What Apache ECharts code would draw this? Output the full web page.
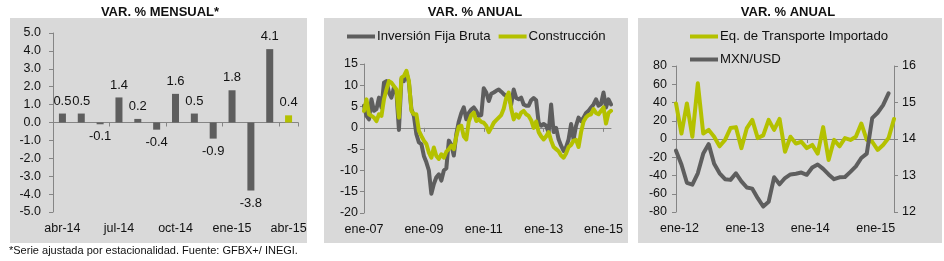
<!DOCTYPE html>
<html>
<head>
<meta charset="utf-8">
<script src="https://cdn.jsdelivr.net/npm/echarts@6/dist/echarts.min.js"></script>
<style>
  html, body { margin: 0; padding: 0; background: #fff; }
  #chart { width: 944px; height: 261px; }
</style>
</head>
<body>
<div id="chart"></div>
<script>
const FONT = '"Liberation Sans", Arial, sans-serif'
const GRAY = '#5e5e5e'
const OLIVE = '#b4c100'
const AXIS = '#858585'
const TXT = '#111'

const MESES = ['ene', 'feb', 'mar', 'abr', 'may', 'jun', 'jul', 'ago', 'sep', 'oct', 'nov', 'dic']
const monthRange = (year, month, n) => {
  const out = []
  for (let k = 0; k < n; k++) {
    const m = (month + k) % 12
    const y = year + Math.floor((month + k) / 12)
    out.push(MESES[m] + '-' + String(y % 100).padStart(2, '0'))
  }
  return out
}

// panel 1: var. % mensual (abr-14 .. abr-15)
const mensualCats = monthRange(2014, 3, 13)
const mensualVals = [0.5, 0.5, -0.1, 1.4, 0.2, -0.4, 1.6, 0.5, -0.9, 1.8, -3.8, 4.1, 0.4]

// panel 2: var. % anual (ene-07 .. abr-15)
const anualCats = monthRange(2007, 0, 100)
const inversion = [
  5.2, 2.8, 2, 6.7, 4, 4.4, 7.1, 4.8, 10.6, 11, 8.3, 7.1, 9.5, 8.3, -0.5, 11.4, 11, 13, 10.6, 4.4,
  2.8, -1.5, -3.4, -3.8, -6.6, -8.1, -10, -15.5, -13.2, -11.6, -10.9, -12.4, -10, -9.5, -3, -4, -6.5, -1.5, 1.5, 3.5,
  4.8, 2, 3.5, 4.3, 4.8, 4, 2.8, 3, 9.3, 8.3, 6.3, 8, 8.3, 8.7, 9, 8.5, 7.9, 7.5, 7.1, 5.5,
  9, 7, 6.7, 7.1, 5.5, 5.2, 5.2, 6.5, 7, 6.5, 1.2, 0.5, 0.9, 0.5, -1.1, 5.5, -1, 0, -2.7, -4.2,
  -5.4, -4.5, -2.7, 0.9, -2.7, 0.5, 2.4, 1.6, 2.4, 3.5, 4, 4.8, 5.5, 6.7, 5.2, 5.6, 8.3, 4.8, 6.7, 5.5
]
const construccion = [
  4, 6.7, 3.2, 2.8, 2.4, 1.6, 3.2, 2.8, 6.7, 9, 11, 10.6, 9.8, 9, 2.4, 11.8, 12.2, 13.4, 11, 4,
  3.2, 3.2, -0.7, -1.9, -3, -3.8, -5.8, -7, -4.6, -6.6, -7.3, -6.2, -7, -5.6, -5, -4.2, -5, -2, 0.3, 0.5,
  -2, -2.7, 1.5, 3, 3.6, 1.6, 2, 1.4, 1.2, 0.5, -1, 0, 1.2, 1.8, 2.4, 3, 4.5, 7, 8.3, 4.5,
  2, 3.2, 2.4, 3.6, 4, 3.2, 2.8, 1.8, 0, 1.5, -1, -2, -2.7, -2, -1, -3, -4.5, -5, -5.5, -6.5,
  -7, -6, -4.5, -4, -3, -2.8, -4.5, -1, 1.5, 2.5, 3, 3.2, 4.4, 3.5, 3.2, 4, 4.8, 1, 3.5, 4
]

// panel 3: var. % anual (ene-12 .. may-15), MXN/USD on right axis
const transCats = monthRange(2012, 0, 41)
const eqTransporte = [
  39, 6, 39, 2.5, 61, 6, 10, 2.5, -8, -1, 12, 13, -10, 12, 21, 1, 4, 21, 10, 22,
  -14, 2.5, -5, -3, -10, -6.5, -16, 13, -23, -1, -8, 1, -1, 2.5, 17, -1, -3, -12, -6.5, 1, 22
]
const mxnUsd = [
  13.68, 13.3, 12.8, 12.75, 13.06, 13.6, 13.86, 13.32, 13.06, 12.9, 12.88, 13.06, 12.84, 12.67, 12.64, 12.38, 12.15, 12.28, 12.95, 12.76,
  12.93, 13.03, 13.05, 13.08, 13.02, 13.22, 13.3, 13.18, 13.03, 12.9, 12.95, 12.96, 13.1, 13.25, 13.48, 13.6, 14.57, 14.72, 14.93, 15.25
]

const labelStyle = { fontFamily: FONT, fontSize: 12.5, color: TXT }

// category axis pair: one at the bottom for labels, one on the zero line for ticks
const catAxes = (gridIndex, data, interval, boundaryGap, zeroIndex, labelPad = 0) => [
  {
    type: 'category', gridIndex, data, position: 'bottom', boundaryGap,
    axisLine: { show: false }, axisTick: { show: false },
    axisLabel: { ...labelStyle, interval, margin: 10, padding: [0, 0, 0, labelPad] }
  },
  {
    type: 'category', gridIndex, data, position: 'top', boundaryGap,
    axisLine: { show: true, onZero: true, onZeroAxisIndex: zeroIndex, lineStyle: { color: AXIS, width: 1 } },
    axisTick: { show: true, inside: true, length: 4, interval, lineStyle: { color: AXIS } },
    axisLabel: { show: false }
  }
]

const valAxis = (gridIndex, min, max, interval, margin, extra = {}) => ({
  type: 'value', gridIndex, min, max, interval,
  axisLine: { show: true, lineStyle: { color: AXIS, width: 1 } },
  axisTick: { show: true, length: 4, lineStyle: { color: AXIS } },
  splitLine: { show: false },
  axisLabel: { ...labelStyle, margin },
  ...extra
})

const lineSeries = (name, data, color, xAxisIndex, yAxisIndex) => ({
  name, type: 'line', data, xAxisIndex, yAxisIndex,
  symbol: 'none', color,
  lineStyle: { color, width: 4, cap: 'round', join: 'round' }
})

const legendText = { fontFamily: FONT, fontSize: 13.2, color: TXT, padding: [0, 0, 0, -3] }

const chart = echarts.init(document.getElementById('chart'))

chart.setOption({
  animation: false,
  textStyle: { fontFamily: FONT },
  graphic: [
    { type: 'rect', z: -10, shape: { x: 10, y: 18, width: 297, height: 225 }, style: { fill: '#d9d9d9' } },
    { type: 'rect', z: -10, shape: { x: 324, y: 18, width: 304, height: 225 }, style: { fill: '#d9d9d9' } },
    { type: 'rect', z: -10, shape: { x: 638, y: 18, width: 304, height: 225 }, style: { fill: '#d9d9d9' } },
    { type: 'text', x: 160, y: 12, style: { text: 'VAR. % MENSUAL*', font: 'bold 13px ' + FONT, fill: TXT, align: 'center', verticalAlign: 'middle' } },
    { type: 'text', x: 475, y: 12, style: { text: 'VAR. % ANUAL', font: 'bold 13px ' + FONT, fill: TXT, align: 'center', verticalAlign: 'middle' } },
    { type: 'text', x: 788, y: 12, style: { text: 'VAR. % ANUAL', font: 'bold 13px ' + FONT, fill: TXT, align: 'center', verticalAlign: 'middle' } },
    { type: 'text', x: 9, y: 251, style: { text: '*Serie ajustada por estacionalidad. Fuente: GFBX+/ INEGI.', font: '11px ' + FONT, fill: TXT, align: 'left', verticalAlign: 'middle' } }
  ],
  legend: [
    {
      data: ['Inversión Fija Bruta', 'Construcción'],
      left: 347, top: 30, padding: 0, icon: 'rect', itemWidth: 28, itemHeight: 4, itemGap: 8,
      textStyle: legendText
    },
    {
      data: ['Eq. de Transporte Importado', 'MXN/USD'],
      orient: 'vertical', left: 690, top: 30, padding: 0, icon: 'rect', itemWidth: 28, itemHeight: 4, itemGap: 10,
      textStyle: legendText
    }
  ],
  grid: [
    { left: 53, top: 33, width: 245, height: 179 },
    { left: 364, top: 64, width: 247, height: 149 },
    { left: 676, top: 66, width: 218, height: 146 }
  ],
  xAxis: [
    ...catAxes(0, mensualCats, 2, true, 0),
    ...catAxes(1, anualCats, 23, false, 1),
    ...catAxes(2, transCats, 11, false, 2, 7)
  ],
  yAxis: [
    valAxis(0, -5, 5, 1, 12, { axisLabel: { ...labelStyle, margin: 12, formatter: v => v.toFixed(1) } }),
    valAxis(1, -20, 15, 5, 6),
    valAxis(2, -80, 80, 20, 9),
    valAxis(2, 12, 16, 1, 8, { position: 'right' })
  ],
  series: [
    {
      type: 'bar', xAxisIndex: 0, yAxisIndex: 0, barWidth: 7,
      data: mensualVals.map(v => ({ value: v, label: { position: v < 0 ? 'bottom' : 'top' } })),
      itemStyle: { color: p => p.dataIndex === mensualVals.length - 1 ? OLIVE : GRAY },
      label: {
        show: true, distance: 6, fontFamily: FONT, fontSize: 13, color: TXT,
        formatter: p => p.value.toFixed(1)
      }
    },
    lineSeries('Inversión Fija Bruta', inversion, GRAY, 2, 1),
    lineSeries('Construcción', construccion, OLIVE, 2, 1),
    lineSeries('Eq. de Transporte Importado', eqTransporte, OLIVE, 4, 2),
    lineSeries('MXN/USD', mxnUsd, GRAY, 4, 3)
  ]
})
</script>
</body>
</html>
